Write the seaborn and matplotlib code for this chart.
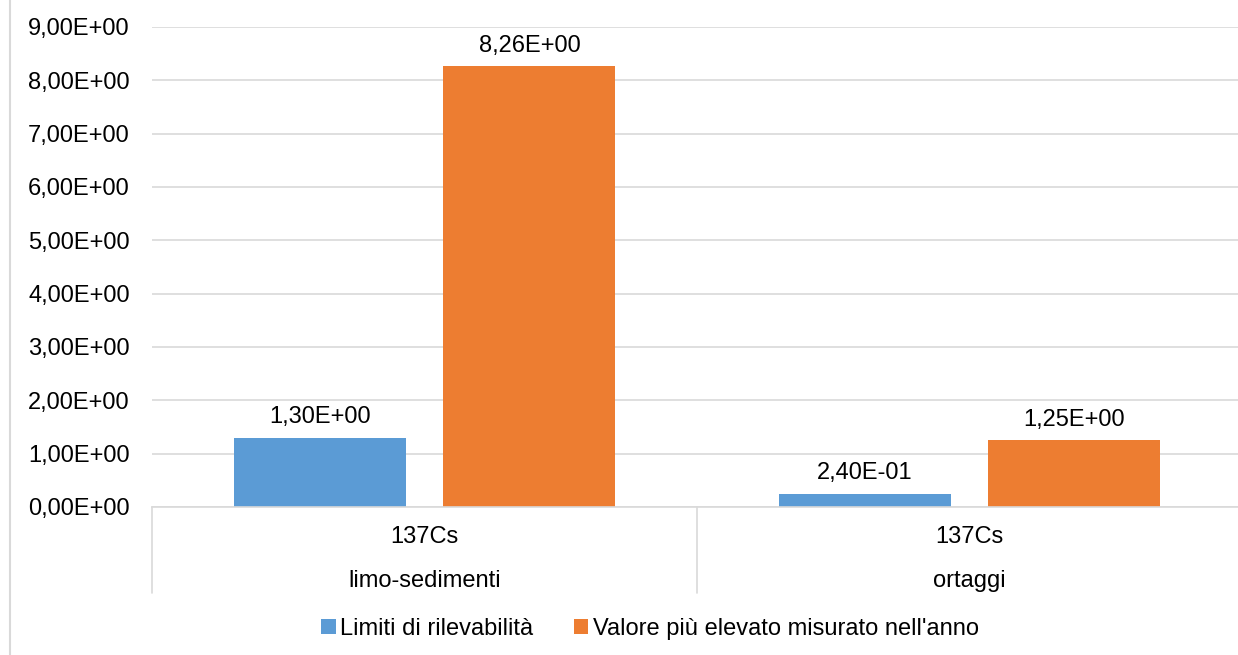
import matplotlib
matplotlib.use("Agg")
import matplotlib.pyplot as plt
import matplotlib.transforms as mtransforms
from matplotlib.lines import Line2D
import seaborn as sns
import pandas as pd

# data
matrici = ["limo-sedimenti", "ortaggi"]
radionuclide = ["137Cs", "137Cs"]
serie = ["Limiti di rilevabilità", "Valore più elevato misurato nell'anno"]
limiti = [1.30, 0.24]
valore_max = [8.26, 1.25]
y_ticks = [0, 1, 2, 3, 4, 5, 6, 7, 8, 9]
colori = ["#5B9BD5", "#ED7D31"]

df = pd.DataFrame({
    "matrice": matrici * 2,
    "serie": [serie[0]] * len(matrici) + [serie[1]] * len(matrici),
    "valore": limiti + valore_max,
})

sns.set_style("white")
plt.rcParams["font.family"] = ["Liberation Sans", "DejaVu Sans"]
FS = 17
GRID = "#D9D9D9"
TXT = "#000000"

W, H = 1238, 655
fig = plt.figure(figsize=(W / 100, H / 100), dpi=100)
ax = fig.add_axes([152 / W, (H - 507) / H, (1242 - 152) / W, 480 / H])

sns.barplot(data=df, x="matrice", y="valore", hue="serie", hue_order=serie,
            order=matrici, palette=colori, saturation=1, width=0.77, gap=0.18,
            linewidth=0, ax=ax)

ax.set_xlim(-0.5, 1.5)
ax.set_ylim(0, 9)
ax.set_yticks(y_ticks)
ax.set_yticklabels([f"{v:.2E}".replace(".", ",") for v in y_ticks], fontsize=FS, color=TXT)
ax.tick_params(axis="y", length=0, pad=16)
ax.tick_params(axis="x", length=0, pad=14)
ax.yaxis.grid(True, color=GRID, linewidth=1.2)
ax.set_axisbelow(True)
for s in ["top", "right", "left"]:
    ax.spines[s].set_visible(False)
ax.spines["bottom"].set_color(GRID)
ax.spines["bottom"].set_linewidth(1.2)
ax.set_xlabel("")
ax.set_ylabel("")

# value labels
for cont in ax.containers:
    ax.bar_label(cont, labels=[f"{b.get_height():.2E}".replace(".", ",") for b in cont],
                 padding=7, fontsize=FS, color=TXT)

# two-level category axis
ax.set_xticks(range(len(matrici)))
ax.set_xticklabels(radionuclide, fontsize=FS, color=TXT)
trans = mtransforms.blended_transform_factory(ax.transData, ax.transAxes)
for i, m in enumerate(matrici):
    ax.text(i, -0.154, m, transform=trans, ha="center", va="center", fontsize=FS, color=TXT)
for xb in [-0.5, 0.5, 1.5]:
    ax.add_line(Line2D([xb, xb], [0, -0.179], transform=trans, color=GRID,
                       linewidth=1.2, clip_on=False))

# legend
handles, labels = ax.get_legend_handles_labels()
ax.get_legend().remove()
fig.legend(handles, labels, loc="center", bbox_to_anchor=(650 / W, (H - 629) / H),
           ncol=2, frameon=False, fontsize=FS, handlelength=0.6, handleheight=0.6,
           handletextpad=0.2, columnspacing=1.7, labelcolor=TXT)

# chart area left border
fig.add_artist(Line2D([10 / W, 10 / W], [0, 1], transform=fig.transFigure,
                      color=GRID, linewidth=1.5))

fig.savefig("out.png", dpi=100)
